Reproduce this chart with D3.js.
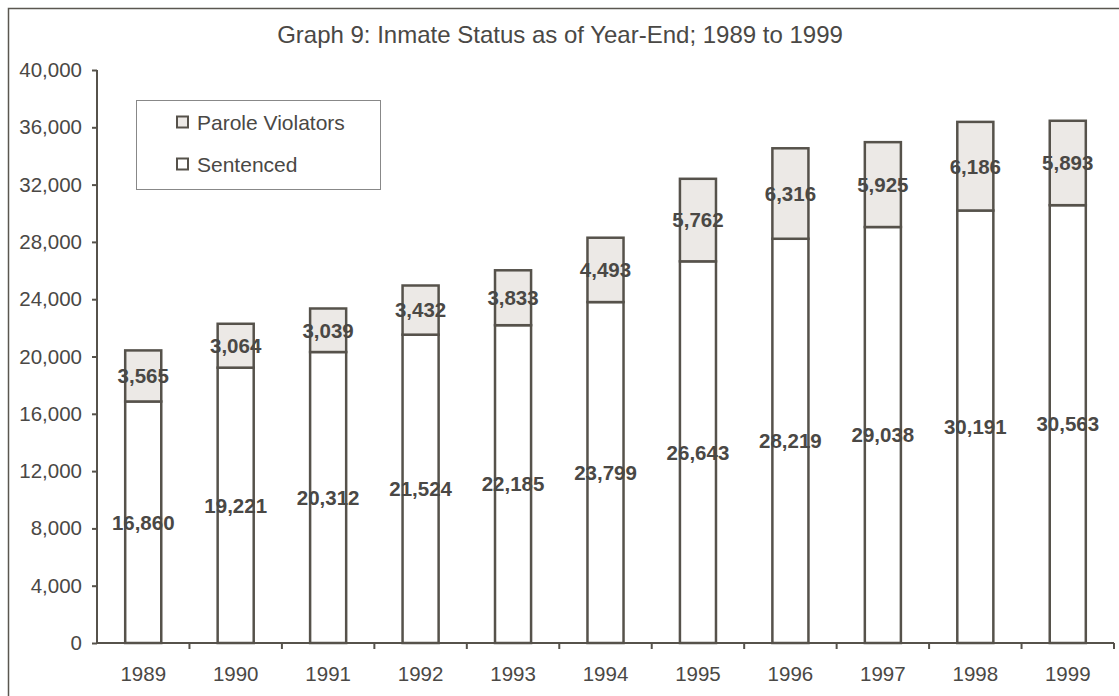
<!DOCTYPE html>
<html><head><meta charset="utf-8">
<script src="https://cdn.jsdelivr.net/npm/d3@7"></script>
<style>body{margin:0;background:#fff}svg{display:block;font-family:"Liberation Sans",Arial,sans-serif}</style>
</head><body>
<script>
const years = ["1989","1990","1991","1992","1993","1994","1995","1996","1997","1998","1999"];
const sentenced = [16860,19221,20312,21524,22185,23799,26643,28219,29038,30191,30563];
const parole = [3565,3064,3039,3432,3833,4493,5762,6316,5925,6186,5893];
const yTicks = [0,4000,8000,12000,16000,20000,24000,28000,32000,36000,40000];
const seriesNames = ["Parole Violators","Sentenced"];

const W=1119,H=696;
const svg=d3.select("body").append("svg").attr("width",W).attr("height",H);
const ink="#56524b", txt="#4a4845";

svg.append("rect").attr("x",8.5).attr("y",8.5).attr("width",W).attr("height",H).attr("fill","none").attr("stroke","#5a5750").attr("stroke-width",1.5);

svg.append("text").attr("x",560).attr("y",43).attr("text-anchor","middle").attr("font-size",24).attr("fill",txt)
  .text("Graph 9: Inmate Status as of Year-End; 1989 to 1999");

const x=d3.scaleBand().domain(years).range([97,1114]).paddingInner(0.61).paddingOuter(0.305);
const y=d3.scaleLinear().domain([0,40000]).range([643,70]);
const fmt=d3.format(",");

// y axis
const ya=svg.append("g").attr("transform","translate(97,0)")
  .call(d3.axisLeft(y).tickValues(yTicks).tickFormat(fmt).tickSize(5).tickPadding(10));
ya.select(".domain").attr("stroke",ink).attr("stroke-width",2).attr("d","M0,70V643");
ya.selectAll(".tick line").attr("stroke",ink).attr("stroke-width",2);
ya.selectAll(".tick text").attr("font-size",20.5).attr("fill",txt).attr("font-family","Liberation Sans, Arial, sans-serif");

// x axis
const xb=d3.scaleLinear().domain([0,years.length]).range([97,1114]);
const xa=svg.append("g").attr("transform","translate(0,643)");
xa.append("line").attr("x1",97).attr("x2",1114).attr("stroke",ink).attr("stroke-width",2);
xa.selectAll("line.t").data(d3.range(1,years.length+1)).enter().append("line")
  .attr("x1",d=>xb(d)).attr("x2",d=>xb(d)).attr("y1",0).attr("y2",6).attr("stroke",ink).attr("stroke-width",2);
xa.selectAll("text").data(years).enter().append("text")
  .attr("x",d=>x(d)+x.bandwidth()/2).attr("y",38).attr("text-anchor","middle")
  .attr("font-size",20.5).attr("fill",txt).text(d=>d);

// bars
const g=svg.append("g");
years.forEach((yr,i)=>{
  const s=sentenced[i], p=parole[i];
  g.append("rect").attr("x",x(yr)).attr("width",x.bandwidth()).attr("y",y(s)).attr("height",y(0)-y(s))
    .attr("fill","#fff").attr("stroke",ink).attr("stroke-width",2.5);
  g.append("rect").attr("x",x(yr)).attr("width",x.bandwidth()).attr("y",y(s+p)).attr("height",y(s)-y(s+p))
    .attr("fill","#ece9e6").attr("stroke",ink).attr("stroke-width",2.5);
});
years.forEach((yr,i)=>{
  const s=sentenced[i], p=parole[i], cx=x(yr)+x.bandwidth()/2;
  g.append("text").attr("x",cx).attr("y",(y(0)+y(s))/2).attr("dy","0.36em").attr("text-anchor","middle")
    .attr("font-size",20.5).attr("font-weight","bold").attr("fill",txt).text(fmt(s));
  g.append("text").attr("x",cx).attr("y",(y(s)+y(s+p))/2).attr("dy","0.36em").attr("text-anchor","middle")
    .attr("font-size",20.5).attr("font-weight","bold").attr("fill",txt).text(fmt(p));
});

// legend
const lg=svg.append("g");
lg.append("rect").attr("x",136.5).attr("y",100.5).attr("width",244).attr("height",89).attr("fill","#fff").attr("stroke","#888").attr("stroke-width",1);
const fills=["#ece9e6","#fff"];
seriesNames.forEach((n,i)=>{
  const cy=122+i*42;
  lg.append("rect").attr("x",177).attr("y",cy-5.5).attr("width",11).attr("height",11).attr("fill",fills[i]).attr("stroke",ink).attr("stroke-width",2);
  lg.append("text").attr("x",197).attr("y",cy).attr("dy","0.36em").attr("font-size",21).attr("fill",txt).text(n);
});
</script>
</body></html>
